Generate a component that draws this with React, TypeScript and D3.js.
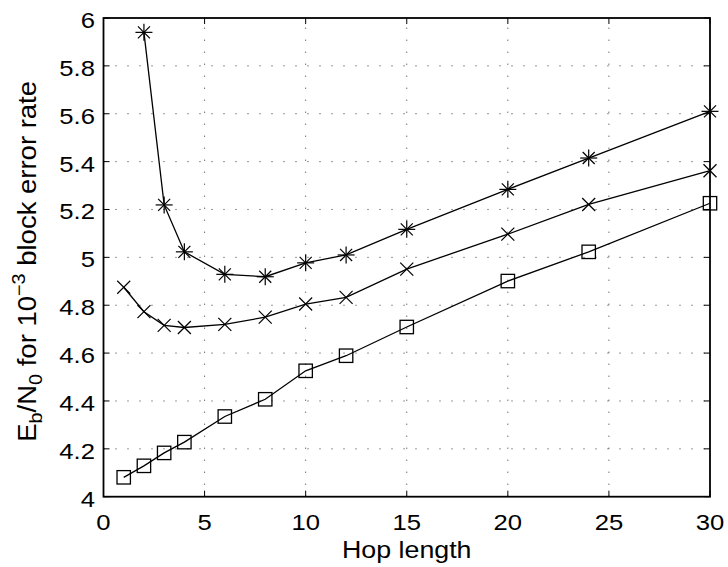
import React from "react";
import * as d3 from "d3";

const hopStar = [2, 3, 4, 6, 8, 10, 12, 15, 20, 24, 30];
const starValues = [5.94, 5.219, 5.023, 4.929, 4.919, 4.977, 5.01, 5.117, 5.284, 5.415, 5.61];
const hopCross = [1, 2, 3, 4, 6, 8, 10, 12, 15, 20, 24, 30];
const crossValues = [4.875, 4.773, 4.716, 4.707, 4.72, 4.75, 4.805, 4.833, 4.951, 5.097, 5.221, 5.362];
const hopSquare = [1, 2, 3, 4, 6, 8, 10, 12, 15, 20, 24, 30];
const squareValues = [4.081, 4.129, 4.183, 4.228, 4.335, 4.407, 4.526, 4.589, 4.709, 4.901, 5.023, 5.226];
const xTicks = [0, 5, 10, 15, 20, 25, 30];
const yTicks = [4, 4.2, 4.4, 4.6, 4.8, 5, 5.2, 5.4, 5.6, 5.8, 6];

const W = 728;
const H = 567;
const L = 103.5, R = 710, T = 18, B = 496.7;

export default function App() {
  const x = d3.scaleLinear().domain([0, 30]).range([L, R]);
  const y = d3.scaleLinear().domain([4, 6]).range([B, T]);
  const line = d3.line<[number, number]>().x((d) => x(d[0])).y((d) => y(d[1]));
  const zip = (a: number[], b: number[]) => a.map((v, i) => [v, b[i]] as [number, number]);
  const starPts = zip(hopStar, starValues);
  const crossPts = zip(hopCross, crossValues);
  const squarePts = zip(hopSquare, squareValues);
  const font = "'Liberation Sans', Arial, Helvetica, sans-serif";
  const tickLen = 6;
  const sx = 1.14;

  return (
    <svg width={W} height={H} style={{ position: "absolute", left: 0, top: 0, background: "#fff" }} fontFamily={font}>
      <rect x={0} y={0} width={W} height={H} fill="#fff" />
      {/* grid */}
      <g stroke="#333" strokeWidth={1} strokeDasharray="1,11" fill="none">
        {xTicks.slice(1, -1).map((t) => (
          <line key={"gx" + t} x1={x(t)} x2={x(t)} y1={B} y2={T} />
        ))}
        {yTicks.slice(1, -1).map((t) => (
          <line key={"gy" + t} x1={L} x2={R} y1={y(t)} y2={y(t)} />
        ))}
      </g>
      {/* ticks */}
      <g stroke="#000" strokeWidth={1}>
        {xTicks.map((t) => (
          <g key={"tx" + t}>
            <line x1={x(t)} x2={x(t)} y1={B} y2={B - tickLen} />
            <line x1={x(t)} x2={x(t)} y1={T} y2={T + tickLen} />
          </g>
        ))}
        {yTicks.map((t) => (
          <g key={"ty" + t}>
            <line x1={L} x2={L + tickLen} y1={y(t)} y2={y(t)} />
            <line x1={R} x2={R - tickLen} y1={y(t)} y2={y(t)} />
          </g>
        ))}
      </g>
      {/* box */}
      <rect x={L} y={T} width={R - L} height={B - T} fill="none" stroke="#000" strokeWidth={1.8} />
      {/* lines */}
      <g fill="none" stroke="#000" strokeWidth={1.3}>
        <path d={line(starPts) || ""} />
        <path d={line(crossPts) || ""} />
        <path d={line(squarePts) || ""} />
      </g>
      {/* star markers */}
      <g stroke="#000" strokeWidth={1.2}>
        {starPts.map(([a, b], i) => {
          const cx = x(a), cy = y(b), r = 8.5;
          const d = r * 0.7071;
          return (
            <g key={"s" + i}>
              <line x1={cx - r} x2={cx + r} y1={cy} y2={cy} />
              <line x1={cx} x2={cx} y1={cy - r} y2={cy + r} />
              <line x1={cx - d} x2={cx + d} y1={cy - d} y2={cy + d} />
              <line x1={cx - d} x2={cx + d} y1={cy + d} y2={cy - d} />
            </g>
          );
        })}
      </g>
      {/* cross markers */}
      <g stroke="#000" strokeWidth={1.2}>
        {crossPts.map(([a, b], i) => {
          const cx = x(a), cy = y(b), d = 6.5;
          return (
            <g key={"c" + i}>
              <line x1={cx - d} x2={cx + d} y1={cy - d} y2={cy + d} />
              <line x1={cx - d} x2={cx + d} y1={cy + d} y2={cy - d} />
            </g>
          );
        })}
      </g>
      {/* square markers */}
      <g stroke="#000" strokeWidth={1.3} fill="none">
        {squarePts.map(([a, b], i) => (
          <rect key={"q" + i} x={x(a) - 6.7} y={y(b) - 6.7} width={13.4} height={13.4} />
        ))}
      </g>
      {/* tick labels */}
      <g fontSize={22.5} fill="#000">
        {xTicks.map((t) => (
          <text key={"lx" + t} transform={`translate(${x(t)},530) scale(${sx},1)`} textAnchor="middle">
            {t}
          </text>
        ))}
        {yTicks.map((t) => (
          <text key={"ly" + t} transform={`translate(95,${y(t) + 10}) scale(${sx},1)`} textAnchor="end">
            {d3.format("~g")(t)}
          </text>
        ))}
      </g>
      {/* axis titles */}
      <text transform={`translate(${(L + R) / 2},557.5) scale(${sx},1)`} textAnchor="middle" fontSize={23.5}>
        Hop length
      </text>
      <text transform={`translate(36,${(T + B) / 2 + 4}) rotate(-90) scale(1.1,1)`} textAnchor="middle" fontSize={25}>
        <tspan>E</tspan>
        <tspan fontSize={18} dy={6}>b</tspan>
        <tspan dy={-6}>/N</tspan>
        <tspan fontSize={18} dy={6}>0</tspan>
        <tspan dy={-6}> for 10</tspan>
        <tspan fontSize={18} dy={-11}>−3</tspan>
        <tspan dy={11}> block error rate</tspan>
      </text>
    </svg>
  );
}
